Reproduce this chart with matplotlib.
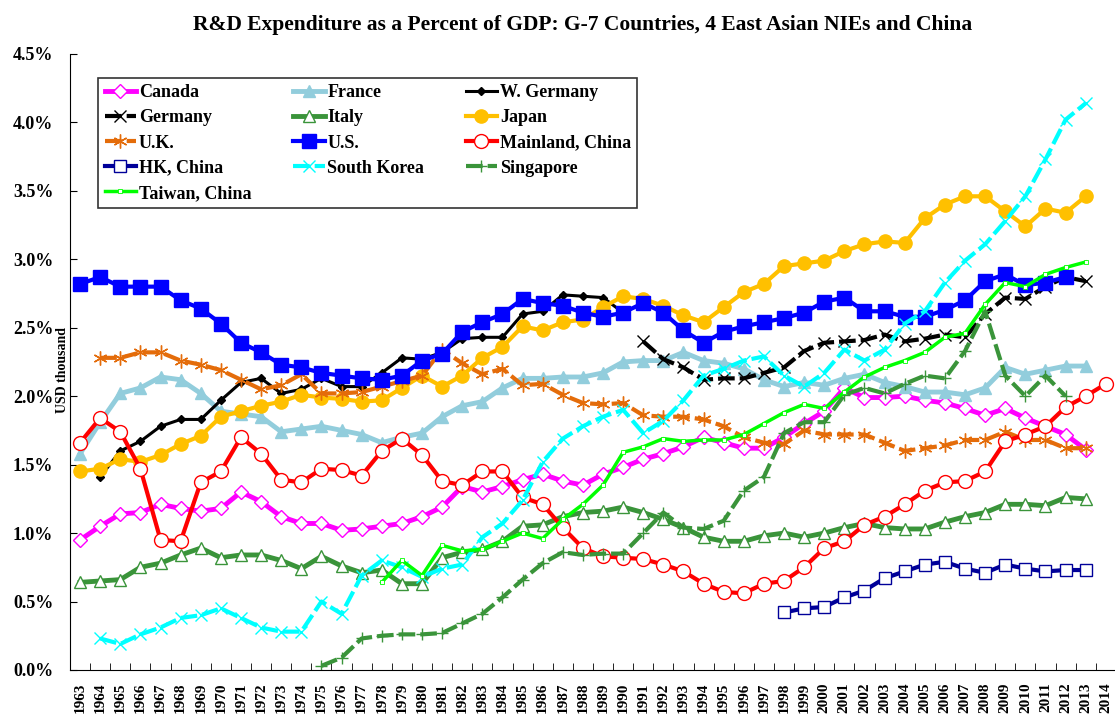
import numpy as np
import matplotlib
matplotlib.use("Agg")
import matplotlib.pyplot as plt
from matplotlib.ticker import FuncFormatter, MultipleLocator

plt.rcParams["font.family"] = ["Liberation Serif", "DejaVu Serif"]
plt.rcParams["font.weight"] = "bold"
plt.rcParams["axes.titleweight"] = "bold"
plt.rcParams["axes.labelweight"] = "bold"

TITLE = "R&D Expenditure as a Percent of GDP: G-7 Countries, 4 East Asian NIEs and China"
years = list(range(1963, 2015))

# R&D as % of GDP (first year, values)
canada_start = 1963
canada = [0.95, 1.05, 1.14, 1.15, 1.21, 1.18, 1.16, 1.18, 1.30, 1.23,
          1.12, 1.07, 1.07, 1.02, 1.03, 1.05, 1.07, 1.12, 1.19, 1.34,
          1.30, 1.34, 1.39, 1.43, 1.38, 1.35, 1.43, 1.48, 1.54, 1.58,
          1.63, 1.70, 1.66, 1.62, 1.62, 1.70, 1.80, 1.89, 2.06, 1.99,
          1.99, 2.00, 1.97, 1.95, 1.91, 1.86, 1.91, 1.84, 1.78, 1.72, 1.61]
france_start = 1963
france = [1.58, 1.81, 2.02, 2.06, 2.14, 2.12, 2.02, 1.89, 1.87, 1.85,
          1.74, 1.76, 1.78, 1.75, 1.72, 1.66, 1.70, 1.73, 1.85, 1.93,
          1.96, 2.06, 2.13, 2.13, 2.14, 2.14, 2.17, 2.25, 2.26, 2.26,
          2.32, 2.26, 2.24, 2.20, 2.12, 2.07, 2.10, 2.08, 2.13, 2.16,
          2.10, 2.07, 2.03, 2.03, 2.01, 2.06, 2.21, 2.16, 2.19, 2.22, 2.22]
wgermany_start = 1964
wgermany = [1.41, 1.60, 1.67, 1.78, 1.83, 1.83, 1.97, 2.10, 2.13, 2.02,
            2.05, 2.13, 2.07, 2.07, 2.17, 2.28, 2.27, 2.32, 2.42, 2.43,
            2.43, 2.60, 2.62, 2.74, 2.73, 2.72, 2.61]
germany_start = 1991
germany = [2.40, 2.27, 2.21, 2.12, 2.13, 2.13, 2.17, 2.21, 2.33, 2.39,
           2.40, 2.41, 2.45, 2.40, 2.42, 2.45, 2.43, 2.60, 2.72, 2.71,
           2.80, 2.87, 2.84]
italy_start = 1963
italy = [0.64, 0.65, 0.66, 0.75, 0.78, 0.84, 0.89, 0.82, 0.84, 0.84,
         0.80, 0.74, 0.83, 0.76, 0.71, 0.73, 0.63, 0.63, 0.82, 0.86,
         0.88, 0.94, 1.05, 1.06, 1.12, 1.15, 1.16, 1.19, 1.15, 1.10,
         1.04, 0.97, 0.94, 0.94, 0.98, 1.00, 0.97, 1.00, 1.04, 1.07,
         1.04, 1.03, 1.03, 1.08, 1.12, 1.15, 1.21, 1.21, 1.20, 1.26, 1.25]
japan_start = 1963
japan = [1.45, 1.47, 1.54, 1.52, 1.57, 1.65, 1.71, 1.85, 1.89, 1.93,
         1.96, 2.01, 1.99, 1.98, 1.96, 1.97, 2.06, 2.15, 2.07, 2.15,
         2.28, 2.36, 2.51, 2.48, 2.54, 2.56, 2.65, 2.73, 2.71, 2.66,
         2.59, 2.54, 2.65, 2.76, 2.82, 2.95, 2.97, 2.99, 3.06, 3.11,
         3.13, 3.12, 3.30, 3.40, 3.46, 3.46, 3.35, 3.24, 3.37, 3.34, 3.46]
uk_start = 1964
uk = [2.28, 2.28, 2.32, 2.32, 2.26, 2.23, 2.19, 2.12, 2.05, 2.08,
      2.16, 2.02, 2.02, 2.03, 2.07, 2.11, 2.15, 2.34, 2.24, 2.16,
      2.20, 2.08, 2.09, 2.01, 1.95, 1.94, 1.95, 1.86, 1.85, 1.85,
      1.83, 1.78, 1.70, 1.66, 1.65, 1.75, 1.72, 1.72, 1.72, 1.66,
      1.60, 1.62, 1.64, 1.68, 1.68, 1.74, 1.68, 1.68, 1.62, 1.62]
us_start = 1963
us = [2.82, 2.87, 2.80, 2.80, 2.80, 2.70, 2.64, 2.53, 2.39, 2.32,
      2.23, 2.21, 2.17, 2.15, 2.13, 2.12, 2.15, 2.26, 2.31, 2.47,
      2.54, 2.60, 2.71, 2.68, 2.66, 2.61, 2.58, 2.61, 2.68, 2.61,
      2.48, 2.39, 2.47, 2.51, 2.54, 2.57, 2.61, 2.69, 2.72, 2.62,
      2.62, 2.58, 2.58, 2.63, 2.70, 2.84, 2.89, 2.81, 2.83, 2.87]
china_start = 1963
china = [1.66, 1.84, 1.74, 1.47, 0.95, 0.94, 1.37, 1.45, 1.70, 1.58,
         1.39, 1.37, 1.47, 1.46, 1.42, 1.60, 1.69, 1.57, 1.38, 1.35,
         1.45, 1.45, 1.26, 1.21, 1.04, 0.89, 0.83, 0.82, 0.81, 0.77,
         0.72, 0.63, 0.57, 0.56, 0.63, 0.65, 0.75, 0.89, 0.94, 1.06,
         1.12, 1.21, 1.31, 1.37, 1.38, 1.45, 1.67, 1.72, 1.78, 1.92, 2.00, 2.09]
hk_start = 1998
hk = [0.42, 0.45, 0.46, 0.53, 0.58, 0.67, 0.72, 0.77, 0.79, 0.74,
      0.71, 0.77, 0.74, 0.72, 0.73, 0.73]
korea_start = 1964
korea = [0.23, 0.19, 0.26, 0.31, 0.38, 0.40, 0.45, 0.38, 0.31, 0.28,
         0.28, 0.50, 0.41, 0.69, 0.80, 0.75, 0.68, 0.74, 0.77, 0.97,
         1.07, 1.24, 1.52, 1.69, 1.78, 1.85, 1.90, 1.73, 1.82, 1.97,
         2.15, 2.20, 2.26, 2.29, 2.15, 2.07, 2.17, 2.34, 2.26, 2.34,
         2.53, 2.62, 2.83, 2.99, 3.11, 3.28, 3.46, 3.73, 4.02, 4.14]
singapore_start = 1975
singapore = [0.03, 0.09, 0.23, 0.25, 0.26, 0.26, 0.27, 0.34, 0.41, 0.53,
             0.66, 0.78, 0.86, 0.84, 0.85, 0.85, 1.00, 1.15, 1.04, 1.03,
             1.09, 1.31, 1.41, 1.73, 1.81, 1.81, 2.01, 2.06, 2.02, 2.09,
             2.15, 2.13, 2.33, 2.62, 2.15, 2.00, 2.15, 2.00]
taiwan_start = 1978
taiwan = [0.64, 0.80, 0.69, 0.91, 0.87, 0.88, 0.94, 1.00, 0.96, 1.10,
          1.21, 1.35, 1.59, 1.63, 1.69, 1.67, 1.68, 1.68, 1.72, 1.80,
          1.88, 1.94, 1.91, 2.03, 2.14, 2.21, 2.26, 2.32, 2.43, 2.46,
          2.67, 2.83, 2.80, 2.89, 2.94, 2.98]

DASH = (0, (4, 1.2))

series = [
    ("Canada", canada_start, canada,
     dict(color="#FF00FF", lw=3.5, marker="D", ms=7, mfc="white", mec="#FF00FF", mew=1.0)),
    ("France", france_start, france,
     dict(color="#92CDDC", lw=3.5, marker="^", ms=9, mfc="#92CDDC", mec="#92CDDC")),
    ("W. Germany", wgermany_start, wgermany,
     dict(color="black", lw=2.2, marker="D", ms=4.5, mfc="black", mec="black")),
    ("Germany", germany_start, germany,
     dict(color="black", lw=3, ls=DASH, marker="x", ms=9, mew=1.0, mec="black")),
    ("Italy", italy_start, italy,
     dict(color="#3A943A", lw=3.5, marker="^", ms=9, mfc="white", mec="#3A943A", mew=1.0)),
    ("Japan", japan_start, japan,
     dict(color="#FFC000", lw=3, marker="o", ms=9.5, mfc="#FFC000", mec="#FFC000")),
    ("U.K.", uk_start, uk,
     dict(color="#E46C0A", lw=3, ls=DASH, marker=(6, 2, 0), ms=10, mew=1.0, mec="#E46C0A")),
    ("U.S.", us_start, us,
     dict(color="#0000FF", lw=3, marker="s", ms=10, mfc="#0000FF", mec="#0000FF")),
    ("Mainland, China", china_start, china,
     dict(color="#FF0000", lw=3, marker="o", ms=10, mfc="white", mec="#FF0000", mew=1.0)),
    ("HK, China", hk_start, hk,
     dict(color="#000099", lw=3, marker="s", ms=9, mfc="white", mec="#000099", mew=1.0)),
    ("South Korea", korea_start, korea,
     dict(color="#00FFFF", lw=3, ls=DASH, marker="x", ms=9, mew=1.0, mec="#00FFFF")),
    ("Singapore", singapore_start, singapore,
     dict(color="#3A943A", lw=3, ls=DASH, marker="+", ms=9, mew=1.0, mec="#3A943A")),
    ("Taiwan, China", taiwan_start, taiwan,
     dict(color="#00FF00", lw=2.5, marker="s", ms=2.5, mfc="white", mec="#00FF00", mew=0.6)),
]

fig = plt.figure(figsize=(11.15, 7.18), dpi=100)
ax = fig.add_axes([0.0628, 0.0669, 0.938, 0.858])

handles = {}
for name, start, vals, style in series:
    xs = years[years.index(start):years.index(start) + len(vals)]
    line, = ax.plot(xs, vals, label=name, **style)
    handles[name] = line

ax.set_xlim(1962.5, 2014.5)
ax.set_ylim(0, 4.5)
ax.yaxis.set_major_locator(MultipleLocator(0.5))
ax.yaxis.set_major_formatter(FuncFormatter(lambda v, _: f"{v:.1f}%"))
ax.tick_params(axis="y", direction="in", length=5, labelsize=13, pad=12)

ax.set_xticks(years)
ax.set_xticklabels([str(y) for y in years], rotation=90, fontsize=11)
ax.set_xticks([y + 0.5 for y in years[:-1]], minor=True)
ax.tick_params(axis="x", which="major", length=0, pad=9)
ax.tick_params(axis="x", which="minor", direction="in", length=5)

for s in ("top", "right"):
    ax.spines[s].set_visible(False)

ax.set_ylabel("USD thousand", fontsize=10)
ax.yaxis.set_label_coords(-0.001, 0.487)

ax.set_title(TITLE, fontsize=15.5, pad=17, x=0.49)

order = ["Canada", "Germany", "U.K.", "HK, China", "Taiwan, China",
         "France", "Italy", "U.S.", "South Korea",
         "W. Germany", "Japan", "Mainland, China", "Singapore"]
leg = ax.legend([handles[n] for n in order], order, ncol=3, loc="upper left",
                bbox_to_anchor=(0.027, 0.961), borderaxespad=0, fontsize=13,
                frameon=True, fancybox=False, edgecolor="black",
                handlelength=1.75, handletextpad=0.15, columnspacing=2.3,
                labelspacing=0.45, borderpad=0.35)
leg.get_frame().set_linewidth(1.2)

fig.savefig("out.png", dpi=100)
